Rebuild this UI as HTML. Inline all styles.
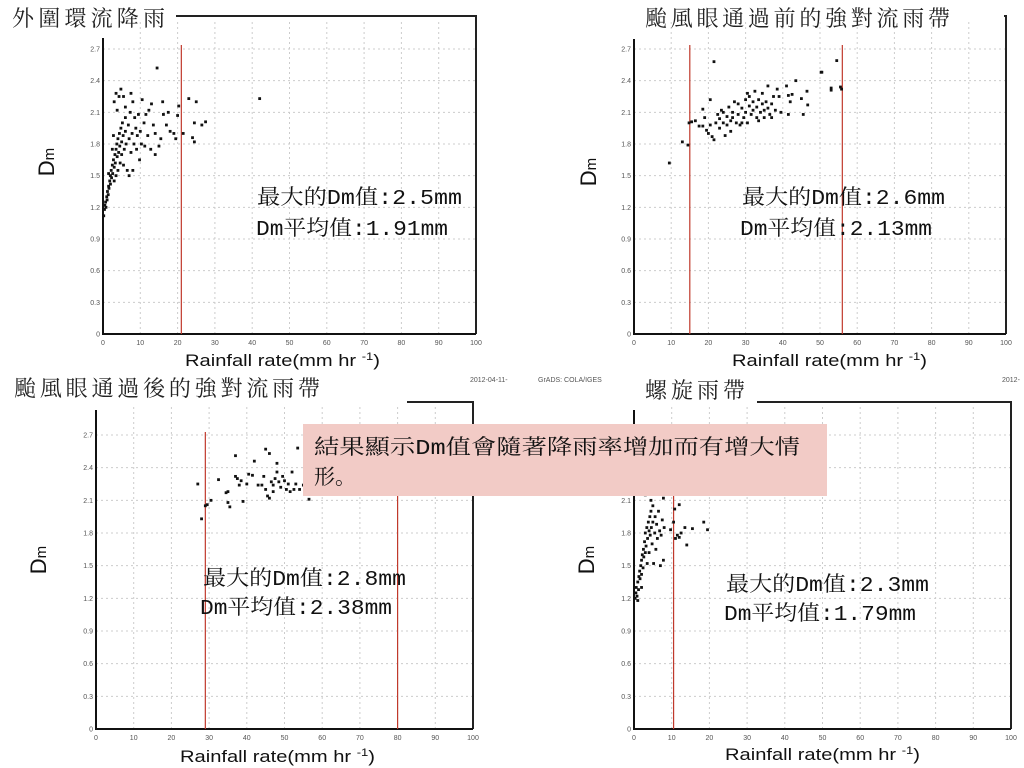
<!DOCTYPE html>
<html><head><meta charset="utf-8"><style>
html,body{margin:0;padding:0;background:#fff;width:1024px;height:768px;overflow:hidden}
svg{display:block}
.t{font-family:"Liberation Serif","Noto Serif CJK SC",serif;fill:#222}
.ann{font-family:"Liberation Mono","Noto Serif CJK SC",serif;fill:#111;font-size:21px}
.tick{font-family:"Liberation Sans",sans-serif;font-size:7px;fill:#555}
.lab{font-family:"Liberation Sans",sans-serif;fill:#111}
</style></head><body>
<svg id="s" width="1024" height="768" viewBox="0 0 1024 768" xmlns="http://www.w3.org/2000/svg">
<g id="charts"></g>
<text class="t" x="12" y="26" font-size="22" textLength="153">外圍環流降雨</text>
<text class="t" x="645" y="26" font-size="22" textLength="305">颱風眼通過前的強對流雨帶</text>
<text class="t" x="14" y="396" font-size="22" textLength="306">颱風眼通過後的強對流雨帶</text>
<text class="t" x="645" y="398" font-size="22" textLength="100">螺旋雨帶</text>
<text class="tick" x="470" y="382">2012-04-11-</text>
<text class="tick" x="538" y="382">GrADS: COLA/IGES</text>
<text class="tick" x="1002" y="382">2012-</text>
<g id="anns">
<text class="ann" x="257" y="204" textLength="205" lengthAdjust="spacingAndGlyphs">最大的Dm值:2.5mm</text>
<text class="ann" x="256" y="235" textLength="192" lengthAdjust="spacingAndGlyphs">Dm平均值:1.91mm</text>
<text class="ann" x="742" y="204" textLength="203" lengthAdjust="spacingAndGlyphs">最大的Dm值:2.6mm</text>
<text class="ann" x="740" y="235" textLength="192" lengthAdjust="spacingAndGlyphs">Dm平均值:2.13mm</text>
<text class="ann" x="203" y="585" textLength="203" lengthAdjust="spacingAndGlyphs">最大的Dm值:2.8mm</text>
<text class="ann" x="200" y="614" textLength="192" lengthAdjust="spacingAndGlyphs">Dm平均值:2.38mm</text>
<text class="ann" x="726" y="591" textLength="203" lengthAdjust="spacingAndGlyphs">最大的Dm值:2.3mm</text>
<text class="ann" x="724" y="620" textLength="192" lengthAdjust="spacingAndGlyphs">Dm平均值:1.79mm</text>
</g>
<g>
<rect x="303" y="424" width="524" height="72" fill="#f2cbc6"/>
<text class="ann" x="314" y="454" textLength="486" lengthAdjust="spacingAndGlyphs">結果顯示Dm值會隨著降雨率增加而有增大情</text>
<text class="ann" x="314" y="484">形。</text>
</g>
</svg>
<script>
const yTicks=[0,0.3,0.6,0.9,1.2,1.5,1.8,2.1,2.4,2.7];
const yTickLabels=["0","0.3","0.6","0.9","1.2","1.5","1.8","2.1","2.4","2.7"];
const xTicks=[0,10,20,30,40,50,60,70,80,90,100];
const p1x=[0.2,0.4,0.5,0.7,0.8,1,1.1,1.2,1.4,1.5,1.6,1.8,2,2,2.2,2.3,2.5,2.6,2.8,3,3,3.2,3.3,3.5,3.5,3.7,3.8,4,4,4.2,4.4,4.5,4.6,4.8,5,5,5.2,5.4,5.5,5.7,6,6,6.2,6.5,6.8,7,7,7.3,7.5,7.8,8,8,8.3,8.5,8.8,9,9.2,9.5,9.8,10,10.3,10.5,11,11.2,11.5,12,12.3,12.8,13,13.5,14,14.5,14,15,15.5,16,16.2,17,17.5,18,19,19.5,20,20.3,21.5,23,24,24.5,24.5,25,26.5,27.5,3,3.5,4.3,4.8,5.5,3.8,2.5,1.5,2.8,42,7.5,6];
const p1y=[1.12,1.18,1.22,1.25,1.2,1.3,1.27,1.35,1.32,1.4,1.38,1.45,1.42,1.5,1.55,1.48,1.6,1.52,1.65,1.45,1.58,1.7,1.62,1.75,1.5,1.8,1.68,1.85,1.55,1.72,1.9,1.78,1.62,1.95,1.82,1.7,2.0,1.88,1.6,1.75,1.92,2.05,1.8,1.55,1.98,1.85,1.5,2.1,1.72,1.9,2.2,1.55,1.8,2.05,1.95,1.75,1.88,2.08,1.65,1.92,1.8,2.22,2.0,1.78,2.08,1.88,2.12,1.75,2.18,1.98,1.9,2.52,1.7,1.78,1.85,2.2,2.08,1.98,2.1,1.92,1.9,1.85,2.07,2.16,1.9,2.23,1.86,1.82,2.0,2.2,1.98,2.01,2.2,2.28,2.25,2.32,2.25,2.12,1.75,1.52,1.88,2.23,2.28,2.15];
const p2x=[9.5,13,14.5,14.8,15.5,16.5,17.5,18.5,18.5,19,19.5,20,20.5,20.5,21,21.5,21.5,22,22.5,23,23,23.5,24,24.5,25,25,25.5,26,26,26.5,27,27.5,28,28,28.5,29,29.5,30,30,30.5,31,31,31.5,32,32,32.5,33,33,33.5,34,34.5,34.5,35,35.5,36,36,36.5,37,37.5,38,38.5,39,39.5,41,41.5,41.5,42,42.5,43.5,45,45.5,46.5,46.7,50.3,50.5,53,53,54.5,55.5,55.8,24,26.5,29,35,33.5,37,30.5];
const p2y=[1.62,1.82,1.79,2.0,2.01,2.02,1.97,1.97,2.13,2.05,1.93,1.9,2.22,1.98,1.87,2.58,1.84,2.0,2.08,1.95,2.04,2.12,2.0,1.88,2.06,1.98,2.15,2.02,1.92,2.1,2.2,2.0,2.08,2.18,1.98,2.14,2.05,2.22,2.1,2.0,2.16,2.25,2.08,2.2,2.12,2.3,2.05,2.15,2.22,2.1,2.18,2.28,2.12,2.2,2.14,2.35,2.08,2.18,2.25,2.12,2.32,2.25,2.1,2.35,2.26,2.08,2.2,2.27,2.4,2.23,2.08,2.3,2.17,2.48,2.48,2.33,2.31,2.59,2.34,2.32,2.1,2.05,2.0,2.05,2.02,2.05,2.28];
const p3x=[27,28,29,29.5,30.5,32.5,34.5,35,35,35.5,37,37,37.5,38,38.5,39,40,40.5,41.5,42,43,44,44.5,45,45,45.5,46,46,46.5,47,47,47.5,48,48,48.5,49,49.5,50,50.5,51,51.5,52,52.5,53,53.5,54,55,56.5,57,58,60,62];
const p3y=[2.25,1.93,2.05,2.06,2.1,2.29,2.17,2.18,2.08,2.04,2.51,2.32,2.3,2.24,2.28,2.09,2.25,2.34,2.33,2.46,2.24,2.24,2.32,2.57,2.2,2.14,2.12,2.53,2.27,2.24,2.18,2.3,2.44,2.36,2.27,2.22,2.32,2.28,2.2,2.25,2.18,2.36,2.2,2.25,2.58,2.2,2.24,2.11,2.35,2.4,2.3,2.45];
const p4x=[0.3,0.5,0.6,0.8,1,1.2,1.3,1.5,1.6,1.8,2,2,2.2,2.4,2.5,2.6,2.8,3,3,3.2,3.4,3.5,3.6,3.8,4,4,4.2,4.3,4.5,4.6,4.8,5,5,5.2,5.5,5.6,5.8,6,6.2,6.5,6.8,7,7.2,7.5,7.8,8,7.8,9.7,10.5,10.8,11,11.5,12,12,12.5,13.5,14,15.5,18.5,19.5,3,4.5,2,1];
const p4y=[1.2,1.25,1.3,1.22,1.35,1.28,1.4,1.45,1.38,1.5,1.42,1.55,1.6,1.48,1.65,1.58,1.72,1.62,1.8,1.68,1.85,1.52,1.75,1.9,1.82,1.62,1.95,1.78,2.0,1.85,1.7,1.9,2.05,1.52,1.8,1.95,1.65,1.88,1.75,2.0,1.82,1.5,1.78,1.92,2.12,1.85,1.55,1.83,1.9,2.02,1.75,1.78,2.06,1.76,1.8,1.85,1.69,1.84,1.9,1.83,2.15,2.1,1.3,1.18];
const p1cut=[21], p2cut=[15,56], p3cut=[29,80], p4cut=[10.5];

const NS="http://www.w3.org/2000/svg";
const root=document.getElementById('charts');
function mk(tag,attrs,parent){const e=document.createElementNS(NS,tag);for(const k in attrs)e.setAttribute(k,attrs[k]);parent.appendChild(e);return e;}
const panels=[
 {id:'p1',xs:p1x,ys:p1y,cut:p1cut,x0:103,x1:476,y0:334,y1:49,axTop:38,frameTop:16,frameL:176,cutTop:45,dm:[54,162],xt:[185,366]},
 {id:'p2',xs:p2x,ys:p2y,cut:p2cut,x0:634,x1:1006,y0:334,y1:49,axTop:39,frameTop:16,frameL:1004,cutTop:45,dm:[596,172],xt:[732,366]},
 {id:'p3',xs:p3x,ys:p3y,cut:p3cut,x0:96,x1:473,y0:729,y1:435,axTop:410,frameTop:402,frameL:407,cutTop:432,dm:[46,560],xt:[180,762]},
 {id:'p4',xs:p4x,ys:p4y,cut:p4cut,x0:634,x1:1011,y0:729,y1:435,axTop:410,frameTop:402,frameL:757,cutTop:432,dm:[594,560],xt:[725,760]}
];
panels.forEach(p=>{
 const g=mk('g',{},root);
 
 
 const sx=v=>p.x0+(p.x1-p.x0)*v/100;
 const sy=v=>p.y0-(p.y0-p.y1)*v/2.7;
 xTicks.forEach(t=>{
  if(t>0){const l=mk('line',{x1:sx(t),x2:sx(t),y1:p.y0,y2:p.frameTop+4,stroke:'#ccc','stroke-width':1,'stroke-dasharray':'2,3'},g);
  }
  const tx=mk('text',{x:sx(t),y:p.y0+11,'text-anchor':'middle',class:'tick'},g);tx.textContent=t;
  
 });
 yTicks.forEach((t,i)=>{
  if(t>0){const l=mk('line',{x1:p.x0,x2:p.x1,y1:sy(t),y2:sy(t),stroke:'#ccc','stroke-width':1,'stroke-dasharray':'2,3'},g);
  }
  const tx=mk('text',{x:p.x0-3,y:sy(t)+2.5,'text-anchor':'end',class:'tick'},g);tx.textContent=yTickLabels[i];
  
 });
 const fr=mk('path',{d:`M${p.frameL} ${p.frameTop} H${p.x1} V${p.y0}`,fill:'none',stroke:'#222','stroke-width':2},g);
 
 const ax=mk('path',{d:`M${p.x0} ${p.axTop} V${p.y0} H${p.x1}`,fill:'none',stroke:'#111','stroke-width':2},g);
 
 p.cut.forEach(c=>{const l=mk('line',{x1:sx(c),x2:sx(c),y1:p.cutTop,y2:p.y0,stroke:'#c0392b','stroke-width':1.2},g);
  });
 p.xs.forEach((v,i)=>{const c=mk('rect',{x:sx(v)-1.4,y:sy(p.ys[i])-1.4,width:2.8,height:2.8,fill:'#111'},g);
  });
 const dm=mk('text',{class:'lab','font-size':22,transform:`translate(${p.dm[0]},${p.dm[1]}) rotate(-90)`,'text-anchor':'middle'},g);
 dm.innerHTML='D<tspan font-size="15">m</tspan>';
 
 const xt=mk('text',{class:'lab','font-size':17,x:p.xt[0],y:p.xt[1],textLength:195,lengthAdjust:'spacingAndGlyphs'},g);
 xt.innerHTML='Rainfall rate(mm hr <tspan font-size="11" dy="-6">-1</tspan><tspan dy="6">)</tspan>';
 
});
</script>
</body></html>
